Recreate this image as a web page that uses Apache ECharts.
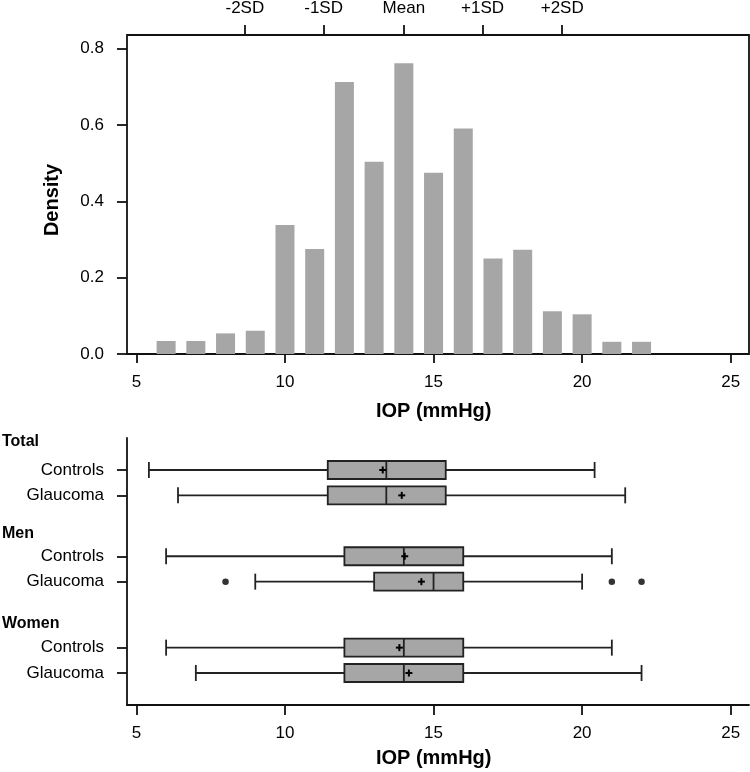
<!DOCTYPE html>
<html>
<head>
<meta charset="utf-8">
<script src="https://cdn.jsdelivr.net/npm/echarts@6/dist/echarts.min.js"></script>
<style>
html,body{margin:0;padding:0;background:#fff;}
#chart{width:750px;height:772px;}
</style>
</head>
<body>
<div id="chart"></div>
<script>
// ---- Histogram data ----
const binCenters = [6, 7, 8, 9, 10, 11, 12, 13, 14, 15, 16, 17, 18, 19, 20, 21, 22];
const densities = [0.034, 0.034, 0.054, 0.061, 0.338, 0.275, 0.713, 0.504, 0.762, 0.475, 0.591, 0.250, 0.273, 0.112, 0.104, 0.032, 0.032];
const xTicks = [5, 10, 15, 20, 25];
const yTicks = [0, 0.2, 0.4, 0.6, 0.8];
const sdLabels = ['-2SD', '-1SD', 'Mean', '+1SD', '+2SD'];
const sdValues = [8.65, 11.3, 14.0, 16.65, 19.33];

// ---- Box plot data ----
const groupHeaders = ['Total', 'Men', 'Women'];
const rowLabels = ['Controls', 'Glaucoma', 'Controls', 'Glaucoma', 'Controls', 'Glaucoma'];
const rowPos = [1, 2, 4.4, 5.4, 8, 9];
const lows = [5.42, 6.4, 6, 9, 6, 7];
const q1s = [11.44, 11.44, 12, 13, 12, 12];
const medians = [13.41, 13.41, 14, 15, 14, 14];
const q3s = [15.41, 15.41, 16, 16, 16, 16];
const highs = [20.42, 21.45, 21, 20, 21, 22];
const means = [13.29, 13.93, 14.03, 14.59, 13.85, 14.17];
const outlierRows = [3, 3, 3];
const outlierValues = [8, 21, 22];

const FONT = '"Liberation Sans", Arial, sans-serif';
const XMIN = 4.6835, XMAX = 25.616;

const boxData = rowPos.map((p, i) => [p, lows[i], q1s[i], medians[i], q3s[i], highs[i], means[i]]);
const outlierData = outlierValues.map((v, i) => [v, rowPos[outlierRows[i]]]);
const barData = binCenters.map((c, i) => [c, densities[i]]);

const chart = echarts.init(document.getElementById('chart'), null, {renderer: 'canvas'});

const labelStyle = {color: '#000', fontSize: 17, fontFamily: FONT};
const tickStyle = {color: '#111', width: 1.8};

function renderBox(params, api) {
  const y = api.value(0);
  const lo = api.coord([api.value(1), y]);
  const q1 = api.coord([api.value(2), y]);
  const md = api.coord([api.value(3), y]);
  const q3 = api.coord([api.value(4), y]);
  const hi = api.coord([api.value(5), y]);
  const mn = api.coord([api.value(6), y]);
  const cy = lo[1];
  const hb = 9, hc = 8, hp = 3.5;
  const ls = {stroke: '#222', lineWidth: 1.8, fill: null};
  return {
    type: 'group',
    children: [
      {type: 'line', shape: {x1: lo[0], y1: cy, x2: q1[0], y2: cy}, style: ls},
      {type: 'line', shape: {x1: q3[0], y1: cy, x2: hi[0], y2: cy}, style: ls},
      {type: 'line', shape: {x1: lo[0], y1: cy - hc, x2: lo[0], y2: cy + hc}, style: ls},
      {type: 'line', shape: {x1: hi[0], y1: cy - hc, x2: hi[0], y2: cy + hc}, style: ls},
      {type: 'rect', shape: {x: q1[0], y: cy - hb, width: q3[0] - q1[0], height: 2 * hb},
        style: {fill: '#a6a6a6', stroke: '#222', lineWidth: 1.8}},
      {type: 'line', shape: {x1: md[0], y1: cy - hb, x2: md[0], y2: cy + hb}, style: ls},
      {type: 'line', shape: {x1: mn[0] - hp, y1: cy, x2: mn[0] + hp, y2: cy}, style: {stroke: '#000', lineWidth: 2}},
      {type: 'line', shape: {x1: mn[0], y1: cy - hp, x2: mn[0], y2: cy + hp}, style: {stroke: '#000', lineWidth: 2}}
    ]
  };
}

const option = {
  animation: false,
  backgroundColor: '#fff',
  grid: [
    {left: 127, top: 34, width: 622, height: 320, show: true, borderColor: '#111', borderWidth: 1.8, backgroundColor: 'transparent'},
    {left: 127, top: 438, width: 622, height: 267}
  ],
  xAxis: [
    {type: 'value', gridIndex: 0, position: 'bottom', min: XMIN, max: XMAX,
      axisLine: {show: false}, splitLine: {show: false},
      axisTick: {show: true, length: 9, lineStyle: tickStyle, customValues: xTicks},
      axisLabel: Object.assign({margin: 20, customValues: xTicks}, labelStyle)},
    {type: 'value', gridIndex: 0, position: 'top', min: XMIN, max: XMAX,
      axisLine: {show: false}, splitLine: {show: false},
      axisTick: {show: true, length: 10, lineStyle: tickStyle, customValues: sdValues},
      axisLabel: Object.assign({margin: 18, customValues: sdValues,
        formatter: (v) => { const i = sdValues.indexOf(v); return i >= 0 ? sdLabels[i] : ''; }}, labelStyle)},
    {type: 'value', gridIndex: 1, position: 'bottom', min: XMIN, max: XMAX,
      axisLine: {show: true, onZero: false, lineStyle: {color: '#111', width: 1.8}}, splitLine: {show: false},
      axisTick: {show: true, length: 10, lineStyle: tickStyle, customValues: xTicks},
      axisLabel: Object.assign({margin: 20, customValues: xTicks}, labelStyle)}
  ],
  yAxis: [
    {type: 'value', gridIndex: 0, min: 0, max: 0.836,
      axisLine: {show: false}, splitLine: {show: false},
      axisTick: {show: true, length: 10, lineStyle: tickStyle, customValues: yTicks},
      axisLabel: Object.assign({margin: 23, customValues: yTicks, formatter: (v) => v.toFixed(1)}, labelStyle)},
    {type: 'value', gridIndex: 1, inverse: true, min: -0.26, max: 10.26,
      axisLine: {show: true, onZero: false, lineStyle: {color: '#111', width: 1.8}}, splitLine: {show: false},
      axisTick: {show: true, length: 10, lineStyle: tickStyle, customValues: rowPos},
      axisLabel: Object.assign({margin: 23, customValues: rowPos,
        formatter: (v) => { const i = rowPos.indexOf(v); return i >= 0 ? rowLabels[i] : ''; }}, labelStyle)}
  ],
  series: [
    {type: 'bar', xAxisIndex: 0, yAxisIndex: 0, data: barData, barWidth: 19,
      itemStyle: {color: '#a6a6a6'}, emphasis: {disabled: true}},
    {type: 'custom', xAxisIndex: 2, yAxisIndex: 1, data: boxData, renderItem: renderBox,
      encode: {x: [1, 2, 3, 4, 5, 6], y: 0}, clip: false},
    {type: 'scatter', xAxisIndex: 2, yAxisIndex: 1, data: outlierData, symbol: 'circle', symbolSize: 6.5,
      itemStyle: {color: '#000'}}
  ],
  graphic: [
    {type: 'text', x: 433.7, y: 411, style: {text: 'IOP (mmHg)', align: 'center', verticalAlign: 'middle', font: 'bold 20px ' + FONT, fill: '#000'}},
    {type: 'text', x: 433.7, y: 758, style: {text: 'IOP (mmHg)', align: 'center', verticalAlign: 'middle', font: 'bold 20px ' + FONT, fill: '#000'}},
    {type: 'text', x: 52, y: 200, rotation: Math.PI / 2, style: {text: 'Density', align: 'center', verticalAlign: 'middle', font: 'bold 20px ' + FONT, fill: '#000'}},
    {type: 'text', x: 2, y: 442, style: {text: groupHeaders[0], align: 'left', verticalAlign: 'middle', font: 'bold 16px ' + FONT, fill: '#000'}},
    {type: 'text', x: 2, y: 534, style: {text: groupHeaders[1], align: 'left', verticalAlign: 'middle', font: 'bold 16px ' + FONT, fill: '#000'}},
    {type: 'text', x: 2, y: 624, style: {text: groupHeaders[2], align: 'left', verticalAlign: 'middle', font: 'bold 16px ' + FONT, fill: '#000'}}
  ]
};
chart.setOption(option);
</script>
</body>
</html>
